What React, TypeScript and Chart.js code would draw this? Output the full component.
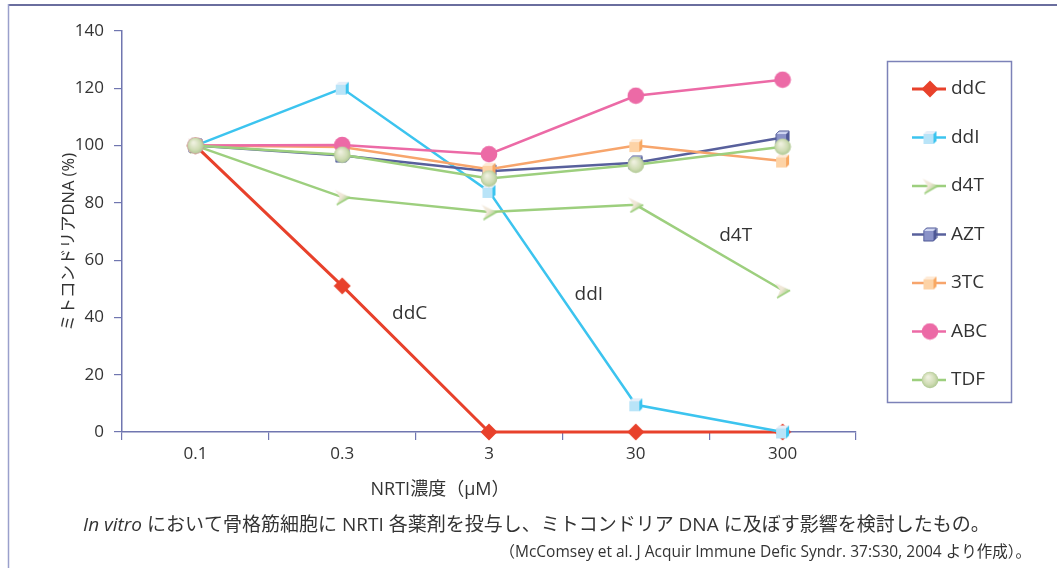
import React, { useEffect, useRef } from "react";
import { Chart, registerables } from "chart.js";

Chart.register(...registerables);

// ---- data ----
const concentrations = ["0.1", "0.3", "3", "30", "300"];
const seriesNames = ["ddC", "ddI", "d4T", "AZT", "3TC", "ABC", "TDF"];
const ddC = [100, 51, 0, 0, 0];
const ddI = [100, 120, 84, 9.5, 0];
const d4T = [100, 82, 76.8, 79.3, 49.5];
const AZT = [100, 96.5, 91, 94, 102.8];
const TC3 = [100, 99.5, 91.7, 100, 94.6];
const ABC = [100, 100.2, 97, 117.4, 123];
const TDF = [100, 96.8, 88.5, 93.3, 99.6];
const yTickValues = [0, 20, 40, 60, 80, 100, 120, 140];
const annotationLabels = ["ddC", "ddI", "d4T"];
const annotationIndex = [1.46, 2.68, 3.68];
const annotationValue = [41.2, 47.8, 68.4];

const FONT = '"Open Sans", "Noto Sans CJK JP", sans-serif';
const JFONT = '"Open Sans", "Noto Sans CJK JP", sans-serif';
const AXIS = "#7076b0";
const TEXT = "#333333";

function mk(w: number, h: number, draw: (c: CanvasRenderingContext2D) => void) {
  const c = document.createElement("canvas");
  c.width = w;
  c.height = h;
  const ctx = c.getContext("2d")!;
  draw(ctx);
  return c;
}

function cube(front: string, side: string, top: string, edge: string | null) {
  return mk(15, 15, (c) => {
    c.fillStyle = front;
    c.fillRect(1, 4, 10, 10);
    c.fillStyle = top;
    c.beginPath();
    c.moveTo(1, 4); c.lineTo(4, 1); c.lineTo(14, 1); c.lineTo(11, 4); c.closePath();
    c.fill();
    c.fillStyle = side;
    c.beginPath();
    c.moveTo(11, 4); c.lineTo(14, 1); c.lineTo(14, 11); c.lineTo(11, 14); c.closePath();
    c.fill();
    if (edge) {
      c.strokeStyle = edge;
      c.lineWidth = 1;
      c.beginPath();
      c.moveTo(1, 4); c.lineTo(4, 1); c.lineTo(14, 1); c.lineTo(14, 11); c.lineTo(11, 14); c.lineTo(1, 14); c.closePath();
      c.stroke();
    }
  });
}

function makeMarkers() {
  const diamond = mk(18, 18, (c) => {
    c.fillStyle = "#e8412b";
    c.beginPath();
    c.moveTo(9, 0.5); c.lineTo(17.5, 9); c.lineTo(9, 17.5); c.lineTo(0.5, 9); c.closePath();
    c.fill();
  });
  const ddiCube = cube("#b9e4f8", "#3cc4ef", "#e6eef8", null);
  const aztCube = cube("#8a92c8", "#4f5896", "#d0d6f2", "#4f5896");
  const tcCube = cube("#fdd3a6", "#f8a862", "#feead6", null);
  const chevron = mk(17, 17, (c) => {
    const g = c.createLinearGradient(0, 0, 16, 12);
    g.addColorStop(0, "#f7efe6");
    g.addColorStop(0.55, "#efe6d6");
    g.addColorStop(1, "#9dcf7e");
    c.fillStyle = g;
    c.beginPath();
    c.moveTo(1, 1); c.lineTo(16, 8.5); c.lineTo(3, 16); c.lineTo(6, 8.5); c.closePath();
    c.fill();
    c.strokeStyle = "#9dcf7e";
    c.lineWidth = 1.5;
    c.beginPath();
    c.moveTo(16, 8.5); c.lineTo(3, 16);
    c.stroke();
  });
  const pink = mk(18, 18, (c) => {
    c.fillStyle = "#ec6aa6";
    c.beginPath();
    c.arc(9, 9, 8.3, 0, Math.PI * 2);
    c.fill();
  });
  const sphere = mk(18, 18, (c) => {
    const g = c.createRadialGradient(7, 6, 1, 9, 9, 9);
    g.addColorStop(0, "#eef0de");
    g.addColorStop(0.6, "#cfdcb4");
    g.addColorStop(1, "#a9c48c");
    c.fillStyle = g;
    c.beginPath();
    c.arc(9, 9, 8.3, 0, Math.PI * 2);
    c.fill();
  });
  return [diamond, ddiCube, chevron, aztCube, tcCube, pink, sphere];
}

export default function App() {
  const ref = useRef<HTMLCanvasElement | null>(null);

  useEffect(() => {
    document.body.style.margin = "0";
    const canvas = ref.current!;
    const markers = makeMarkers();
    const values = [ddC, ddI, d4T, AZT, TC3, ABC, TDF];
    const colors = ["#e8412b", "#3cc4ef", "#9dcf7e", "#58609c", "#f7a56c", "#ec6aa6", "#9dcf7e"];
    const widths = [3, 2.5, 2.5, 2.5, 2.5, 2.5, 2.5];

    const datasets = seriesNames.map((name, i) => ({
      label: name,
      data: values[i],
      borderColor: colors[i],
      backgroundColor: colors[i],
      borderWidth: widths[i],
      pointStyle: markers[i] as any,
      pointRadius: 8,
      tension: 0,
      clip: false as any,
      order: seriesNames.length - i,
    }));

    const decor = {
      id: "decor",
      beforeDraw(chart: any) {
        const c = chart.ctx as CanvasRenderingContext2D;
        c.save();
        c.fillStyle = "#ffffff";
        c.fillRect(0, 0, chart.width, chart.height);
        c.strokeStyle = "#6a6e9e";
        c.lineWidth = 2;
        c.beginPath();
        c.moveTo(8, 5); c.lineTo(1057, 5);
        c.stroke();
        c.strokeStyle = "#9aa0cc";
        c.lineWidth = 1.5;
        c.beginPath();
        c.moveTo(8.5, 4); c.lineTo(8.5, 568);
        c.stroke();
        c.restore();
      },
      afterDraw(chart: any) {
        const c = chart.ctx as CanvasRenderingContext2D;
        const xs = chart.scales.x;
        const ys = chart.scales.y;
        c.save();
        c.fillStyle = TEXT;
        // y title
        c.save();
        c.translate(69, 242);
        c.rotate(-Math.PI / 2);
        c.font = `16.5px ${JFONT}`;
        c.textAlign = "center";
        c.textBaseline = "middle";
        c.fillText("ミトコンドリアDNA (%)", 0, 0);
        c.restore();
        // x title
        c.font = `18px ${JFONT}`;
        c.textAlign = "center";
        c.textBaseline = "middle";
        c.fillText("NRTI濃度（μM）", 440, 490);
        // annotations
        c.font = `19px ${FONT}`;
        annotationLabels.forEach((t, i) => {
          c.fillText(t, xs.getPixelForValue(annotationIndex[i]), ys.getPixelForValue(annotationValue[i]));
        });
        // caption
        c.textAlign = "left";
        c.textBaseline = "alphabetic";
        c.font = `italic 19px ${FONT}`;
        const it = "In vitro";
        c.fillText(it, 83, 531);
        const w = c.measureText(it).width;
        c.font = `19px ${JFONT}`;
        c.fillText(" において骨格筋細胞に NRTI 各薬剤を投与し、ミトコンドリア DNA に及ぼす影響を検討したもの。", 83 + w, 531);
        c.font = `15.5px ${JFONT}`;
        c.textAlign = "right";
        c.fillText("（McComsey et al. J Acquir Immune Defic Syndr. 37:S30, 2004 より作成）。", 1031, 557);
        // legend
        c.strokeStyle = "#7c82b8";
        c.lineWidth = 1.5;
        c.strokeRect(887.5, 61.5, 124, 341);
        c.textAlign = "left";
        c.textBaseline = "middle";
        c.font = `19px ${FONT}`;
        chart.data.datasets.forEach((ds: any, i: number) => {
          const y = 89 + i * 48.5;
          c.strokeStyle = ds.borderColor;
          c.lineWidth = ds.borderWidth;
          c.beginPath();
          c.moveTo(912, y); c.lineTo(946, y);
          c.stroke();
          const m = ds.pointStyle as HTMLCanvasElement;
          c.drawImage(m, 930 - m.width / 2, y - m.height / 2);
          c.fillStyle = TEXT;
          c.fillText(ds.label, 951, y);
        });
        c.restore();
      },
    };

    const chart = new Chart(canvas, {
      type: "line",
      data: { labels: concentrations, datasets: datasets as any },
      options: {
        animation: false,
        responsive: false,
        maintainAspectRatio: false,
        layout: { padding: { left: 0, right: 201, top: 31, bottom: 0 } },
        plugins: { legend: { display: false }, tooltip: { enabled: false }, title: { display: false } },
        scales: {
          x: {
            type: "category",
            offset: true,
            grid: { display: true, offset: true, drawOnChartArea: false, drawTicks: true, tickLength: 8, color: AXIS, lineWidth: 1.2 },
            border: { display: true, color: AXIS, width: 1.5 },
            ticks: { color: TEXT, font: { size: 17, family: FONT }, padding: 4 },
            afterFit: (s: any) => { s.height = 136; },
          },
          y: {
            min: 0,
            max: 140,
            afterBuildTicks: (s: any) => { s.ticks = yTickValues.map((v) => ({ value: v })); },
            grid: { display: true, drawOnChartArea: false, drawTicks: true, tickLength: 8, color: AXIS, lineWidth: 1.2 },
            border: { display: true, color: AXIS, width: 1.5 },
            ticks: { color: TEXT, font: { size: 17, family: FONT }, padding: 10 },
            afterFit: (s: any) => { s.width = 122; },
          },
        },
      } as any,
      plugins: [decor],
    });
    return () => chart.destroy();
  }, []);

  return <canvas ref={ref} width={1057} height={568} style={{ display: "block", width: 1057, height: 568 }} />;
}
